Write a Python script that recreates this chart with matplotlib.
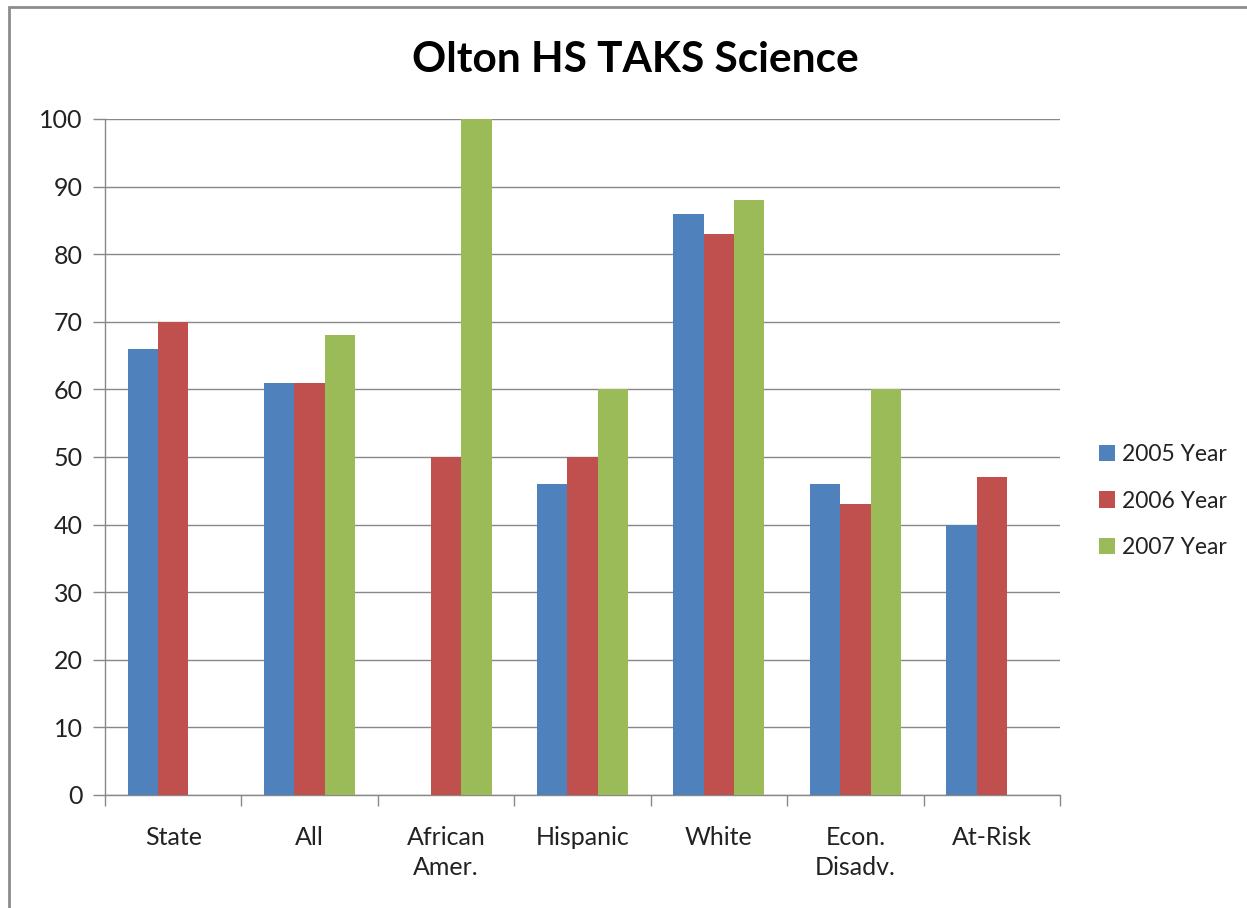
import matplotlib
matplotlib.use("Agg")
import matplotlib.pyplot as plt
import numpy as np
from matplotlib.patches import Rectangle

categories = ["State", "All", "African\nAmer.", "Hispanic", "White", "Econ.\nDisadv.", "At-Risk"]
series_names = ["2005 Year", "2006 Year", "2007 Year"]
y2005 = [66, 61, np.nan, 46, 86, 46, 40]
y2006 = [70, 61, 50, 50, 83, 43, 47]
y2007 = [np.nan, 68, 100, 60, 88, 60, np.nan]
colors = ["#4F81BD", "#C0504D", "#9BBB59"]
yticks = list(range(0, 101, 10))

plt.rcParams['font.family'] = ['Lato', 'DejaVu Sans']

fig = plt.figure(figsize=(12.47, 9.08), dpi=100)
fig.patch.set_facecolor("white")
# outer frame
fig.patches.append(Rectangle((9/1247, -0.05), 1.2, 1 - 7/908 + 0.05, transform=fig.transFigure,
                             fill=False, edgecolor="#8c8c8c", linewidth=2))

ax = fig.add_axes([105/1247, 1 - 795/908, (1060 - 105)/1247, (795 - 119)/908])
x = np.arange(len(categories))
w = 1 / 4.5
for i, (vals, c, name) in enumerate(zip([y2005, y2006, y2007], colors, series_names)):
    ax.bar(x + (i - 1) * w, vals, width=w, color=c, label=name, zorder=3)

ax.set_xlim(-0.5, len(categories) - 0.5)
ax.set_ylim(0, 100)
ax.set_yticks(yticks)
ax.set_yticklabels([str(t) for t in yticks], fontsize=18, color="#222222")
ax.set_xticks(x)
ax.set_xticklabels(categories, fontsize=18, color="#222222", linespacing=1.4)
ax.tick_params(axis="x", length=0, pad=22)
ax.set_xticks(np.arange(len(categories) + 1) - 0.5, minor=True)
ax.tick_params(axis="x", which="minor", length=8, color="#888888", width=1)
ax.tick_params(axis="y", length=9, color="#888888", width=1, pad=7)
ax.yaxis.grid(True, color="#888888", linewidth=1, zorder=0)
ax.set_axisbelow(True)
for s in ["top", "right"]:
    ax.spines[s].set_visible(False)
for s in ["left", "bottom"]:
    ax.spines[s].set_color("#888888")
    ax.spines[s].set_linewidth(1)

fig.text(635/1247, 1 - 60/908, "Olton HS TAKS Science", ha="center", va="center",
         fontsize=30.5, fontweight="bold", color="black")

leg = fig.legend(loc="center left", bbox_to_anchor=(1099/1247, 1 - 501/908), frameon=False,
                 fontsize=16.5, handlelength=0.7, handleheight=0.7, handletextpad=0.3,
                 labelspacing=1.12, borderaxespad=0, borderpad=0)
for t in leg.get_texts():
    t.set_color("#222222")

fig.savefig("out.png", dpi=100, facecolor="white")
